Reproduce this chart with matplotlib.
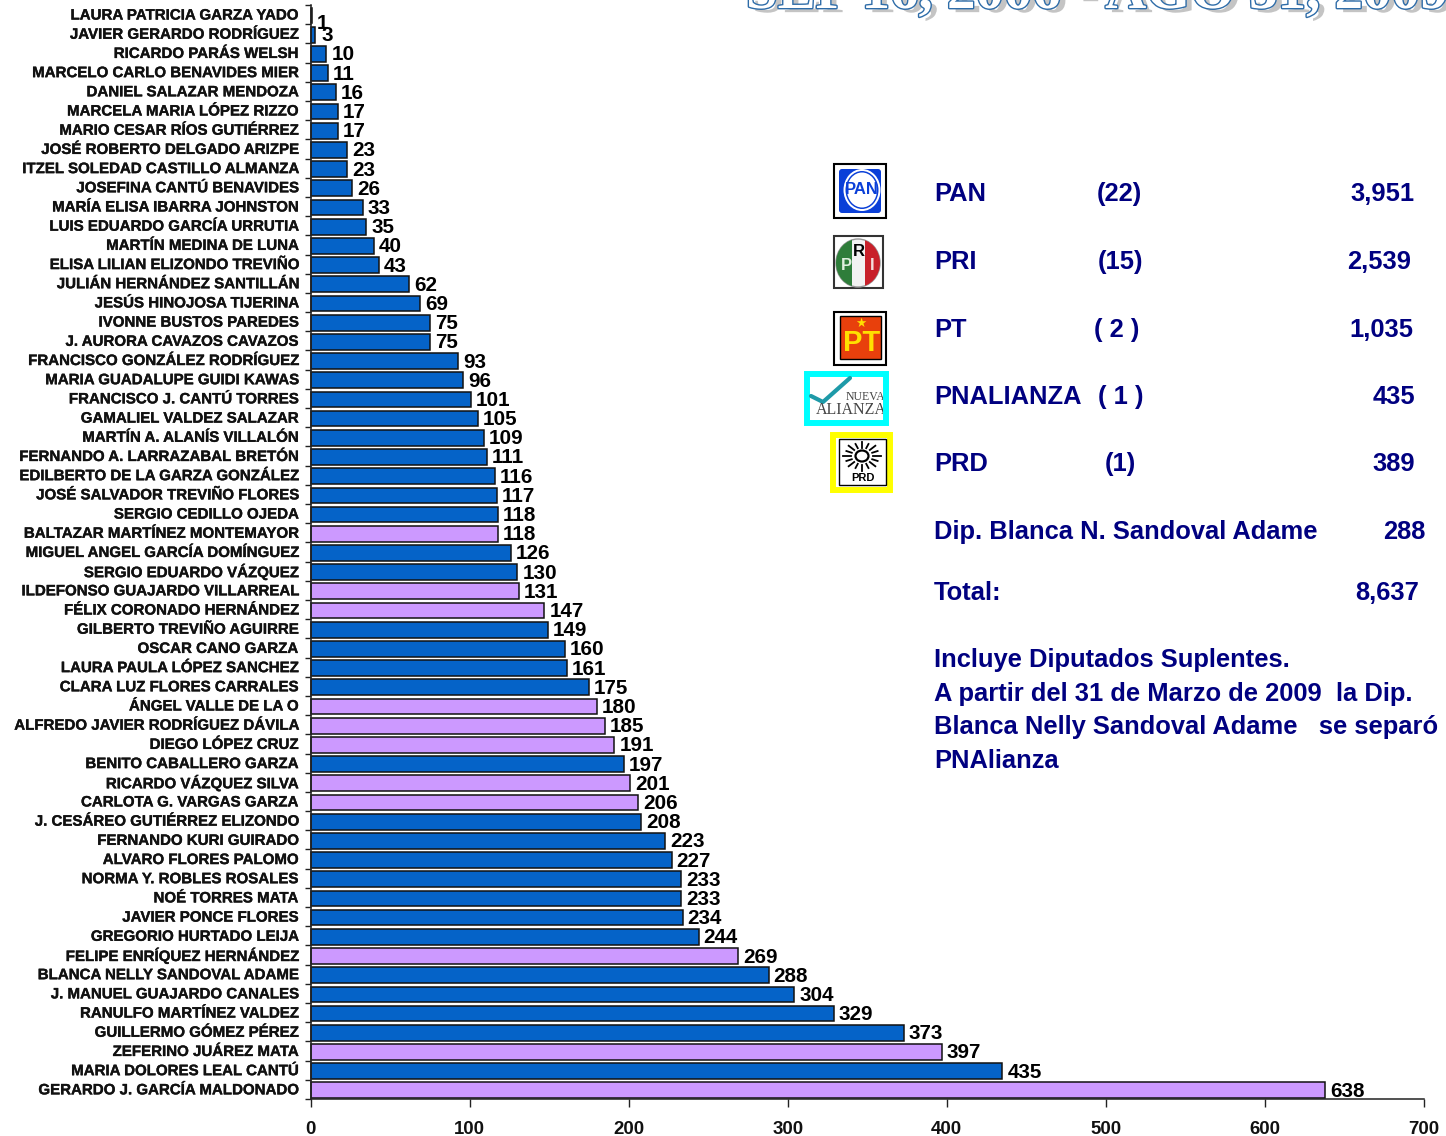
import math
import matplotlib
matplotlib.use("Agg")
import matplotlib.pyplot as plt
import matplotlib.patheffects as pe
from matplotlib.patches import Rectangle, Ellipse, FancyBboxPatch

W, H = 1446, 1136
BLUE = "#0563C8"
LILAC = "#CC99FF"
NAVY = "#000080"

names = ["LAURA PATRICIA GARZA YADO", "JAVIER GERARDO RODRÍGUEZ", "RICARDO PARÁS WELSH",
 "MARCELO CARLO BENAVIDES MIER", "DANIEL SALAZAR MENDOZA", "MARCELA MARIA LÓPEZ RIZZO",
 "MARIO CESAR RÍOS GUTIÉRREZ", "JOSÉ ROBERTO DELGADO ARIZPE", "ITZEL SOLEDAD CASTILLO ALMANZA",
 "JOSEFINA CANTÚ BENAVIDES", "MARÍA ELISA IBARRA JOHNSTON", "LUIS EDUARDO GARCÍA URRUTIA",
 "MARTÍN MEDINA DE LUNA", "ELISA LILIAN ELIZONDO TREVIÑO", "JULIÁN HERNÁNDEZ SANTILLÁN",
 "JESÚS HINOJOSA TIJERINA", "IVONNE BUSTOS PAREDES", "J. AURORA CAVAZOS CAVAZOS",
 "FRANCISCO GONZÁLEZ RODRÍGUEZ", "MARIA GUADALUPE GUIDI KAWAS", "FRANCISCO J. CANTÚ TORRES",
 "GAMALIEL VALDEZ SALAZAR", "MARTÍN A. ALANÍS VILLALÓN", "FERNANDO A. LARRAZABAL BRETÓN",
 "EDILBERTO DE LA GARZA GONZÁLEZ", "JOSÉ SALVADOR TREVIÑO FLORES", "SERGIO CEDILLO OJEDA",
 "BALTAZAR MARTÍNEZ MONTEMAYOR", "MIGUEL ANGEL GARCÍA DOMÍNGUEZ", "SERGIO EDUARDO VÁZQUEZ",
 "ILDEFONSO GUAJARDO VILLARREAL", "FÉLIX CORONADO HERNÁNDEZ", "GILBERTO TREVIÑO AGUIRRE",
 "OSCAR CANO GARZA", "LAURA PAULA LÓPEZ SANCHEZ", "CLARA LUZ FLORES CARRALES",
 "ÁNGEL VALLE DE LA O", "ALFREDO JAVIER RODRÍGUEZ DÁVILA", "DIEGO LÓPEZ CRUZ",
 "BENITO CABALLERO GARZA", "RICARDO VÁZQUEZ SILVA", "CARLOTA G. VARGAS GARZA",
 "J. CESÁREO GUTIÉRREZ ELIZONDO", "FERNANDO KURI GUIRADO", "ALVARO FLORES PALOMO",
 "NORMA Y. ROBLES ROSALES", "NOÉ TORRES MATA", "JAVIER PONCE FLORES", "GREGORIO HURTADO LEIJA",
 "FELIPE ENRÍQUEZ HERNÁNDEZ", "BLANCA NELLY SANDOVAL ADAME", "J. MANUEL GUAJARDO CANALES",
 "RANULFO MARTÍNEZ VALDEZ", "GUILLERMO GÓMEZ PÉREZ", "ZEFERINO JUÁREZ MATA",
 "MARIA DOLORES LEAL CANTÚ", "GERARDO J. GARCÍA MALDONADO"]
values = [1, 3, 10, 11, 16, 17, 17, 23, 23, 26, 33, 35, 40, 43, 62, 69, 75, 75, 93, 96, 101, 105,
 109, 111, 116, 117, 118, 118, 126, 130, 131, 147, 149, 160, 161, 175, 180, 185, 191, 197, 201,
 206, 208, 223, 227, 233, 233, 234, 244, 269, 288, 304, 329, 373, 397, 435, 638]
lilac_names = ["BALTAZAR MARTÍNEZ MONTEMAYOR", "ILDEFONSO GUAJARDO VILLARREAL", "FÉLIX CORONADO HERNÁNDEZ",
 "ÁNGEL VALLE DE LA O", "ALFREDO JAVIER RODRÍGUEZ DÁVILA", "DIEGO LÓPEZ CRUZ",
 "RICARDO VÁZQUEZ SILVA", "CARLOTA G. VARGAS GARZA", "FELIPE ENRÍQUEZ HERNÁNDEZ",
 "ZEFERINO JUÁREZ MATA", "GERARDO J. GARCÍA MALDONADO"]
xticks = [0, 100, 200, 300, 400, 500, 600, 700]

parties = ["PAN", "PRI", "PT", "PNALIANZA", "PRD"]
seats = ["(22)", "(15)", "( 2 )", "( 1 )", "(1)"]
totals = ["3,951", "2,539", "1,035", "435", "389"]
extra_label, extra_value = "Dip. Blanca N. Sandoval Adame", "288"
total_label, total_value = "Total:", "8,637"
note_lines = ["Incluye Diputados Suplentes.", "A partir del 31 de Marzo de 2009  la Dip.",
              "Blanca Nelly Sandoval Adame   se separó del", "PNAlianza"]
title_text = "SEP 16, 2006 - AGO 31, 2009"

plt.rcParams["font.family"] = ["Liberation Sans", "DejaVu Sans"]
plt.rcParams["font.weight"] = "bold"
fig = plt.figure(figsize=(W / 100, H / 100), dpi=100, facecolor="white")

L, R, T, B = 310.5, 1424, 5, 1099
ax = fig.add_axes([L / W, 1 - B / H, (R - L) / W, (B - T) / H])
n = len(names)
ypos = list(range(n))
colors = [LILAC if nm in lilac_names else BLUE for nm in names]
ax.barh(ypos, values, height=0.82, color=colors, edgecolor="#111111", linewidth=1.1, clip_on=False)
ax.set_xlim(0, 700)
ax.set_ylim(n - 0.55, -0.55)
for s in ("top", "right"):
    ax.spines[s].set_visible(False)
for s in ("left", "bottom"):
    ax.spines[s].set_linewidth(1.1)
    ax.spines[s].set_color("#222222")
ax.set_yticks([i - 0.55 for i in range(n + 1)], [""] * (n + 1))
ax.tick_params(axis="y", length=4.5, width=1, color="#222222")
for i, nm in enumerate(names):
    ax.annotate(nm, (0, i), xytext=(-13, 0), textcoords="offset pixels", ha="right", va="center",
                fontsize=10.85, fontweight="bold", color="#111111",
                path_effects=[pe.withStroke(linewidth=0.25, foreground="#111111")])
ax.set_xticks(xticks)
ax.tick_params(axis="x", length=5.5, width=1, color="#222222", pad=10.5, labelsize=13.4, labelcolor="#111111")
for v, i in zip(values, ypos):
    dy = -8 if i == 0 else -1
    dx = 6 if i == 1 else 5
    ax.annotate(str(v), (v, i), xytext=(dx, dy), textcoords="offset pixels", ha="left", va="center",
                fontsize=14.9, fontweight="bold", color="black")

ov = fig.add_axes([0, 0, 1, 1], facecolor="none")
ov.set_xlim(0, W)
ov.set_ylim(H, 0)
ov.axis("off")

ov.text(746, 8, title_text, ha="left", va="baseline", fontsize=41, color="white", clip_on=True,
        family="Liberation Serif",
        path_effects=[pe.withSimplePatchShadow(offset=(4.5, -3), shadow_rgbFace="#C4C4C4", alpha=1),
                      pe.withStroke(linewidth=2.0, foreground="#2E6CA8")])

def frame(x0, y0, x1, y1, fc="white", ec="black", lw=1.5):
    ov.add_patch(Rectangle((x0, y0), x1 - x0, y1 - y0, facecolor=fc, edgecolor=ec, linewidth=lw))

# PAN
frame(834, 164, 886, 218)
ov.add_patch(FancyBboxPatch((839, 169), 42, 44, boxstyle="round,pad=0,rounding_size=3", fc="#0A3FD8", ec="none"))
ov.add_patch(Ellipse((862, 190), 37, 42, fc="white", ec="none"))
ov.add_patch(Ellipse((862, 190), 33, 38, fc="#0A3FD8", ec="none"))
ov.add_patch(Ellipse((862, 190), 30, 35, fc="white", ec="none"))
ov.text(862, 190, "PAN", color="#0A3FD8", fontsize=12, ha="center", va="center", fontweight="bold")
# PRI
frame(834, 236, 883, 288, ec="#333333")
clip = Ellipse((858, 263), 44, 48, transform=ov.transData)
ov.add_patch(Ellipse((858, 263), 44, 48, fc="#F2F2F2", ec="#999999", lw=1))
ov.add_patch(Rectangle((836, 239), 16, 48, fc="#2E7D3A", ec="none")).set_clip_path(clip)
ov.add_patch(Rectangle((865, 239), 16, 48, fc="#C8202A", ec="none")).set_clip_path(clip)
ov.text(846, 265, "P", color="#DDEEDD", fontsize=12, ha="center", va="center")
ov.text(859, 252, "R", color="black", fontsize=12, ha="center", va="center")
ov.text(872, 265, "I", color="#F4DDDD", fontsize=12, ha="center", va="center")
# PT
frame(834, 312, 886, 365)
ov.add_patch(Rectangle((840, 316), 41, 43, fc="#E8400C", ec="black", lw=1))
ov.text(861, 323, "★", color="#FFE000", fontsize=9, ha="center", va="center", family="DejaVu Sans")
ov.text(862, 343, "PT", color="#FFE000", fontsize=21, ha="center", va="center")
# Nueva Alianza
ov.add_patch(Rectangle((807, 374), 79, 49, fc="white", ec="#00FFFF", lw=4.3))
ov.plot([811, 823, 850], [396, 402, 378], color="#1E9AA8", lw=3, solid_capstyle="round")
box = Rectangle((810, 378), 73, 42, transform=ov.transData)
t1 = ov.text(846, 397, "NUEVA", color="#444444", fontsize=8.5, family="Liberation Serif", ha="left", va="center",
             fontweight="normal")
t1.set_clip_path(box)
t1.set_clip_on(True)
t2 = ov.text(816, 410, "ALIANZA", color="#444444", fontsize=11.5, family="Liberation Serif", ha="left", va="center",
             fontweight="normal")
t2.set_clip_path(box)
t2.set_clip_on(True)
# PRD
ov.add_patch(Rectangle((833, 435), 57, 55, fc="white", ec="#FFFF00", lw=4.3))
frame(839, 439, 886, 485, lw=1)
sx, sy = 862, 456
ov.add_patch(Ellipse((sx, sy), 13, 11, fc="white", ec="black", lw=1.6))
for k in range(16):
    a = 2 * math.pi * k / 16
    r0, r1 = 8.5, 13 if k % 2 else 14.5
    ov.plot([sx + 1.3 * r0 * math.cos(a), sx + 1.3 * r1 * math.cos(a)], [sy + r0 * math.sin(a), sy + r1 * math.sin(a)],
            color="black", lw=1.3)
ov.text(863, 478, "PRD", color="black", fontsize=8, ha="center", va="center")

FS = 18.4
rows_y = [194, 262, 330, 397, 464]
seat_cx = [1119, 1120.5, 1117, 1121, 1120]
tot_r = [1415, 1411, 1413, 1415, 1415]
for p, s, t, y, cx, r in zip(parties, seats, totals, rows_y, seat_cx, tot_r):
    ov.text(934, y, p, color=NAVY, fontsize=FS, ha="left", va="center")
    ov.text(cx, y, s, color=NAVY, fontsize=FS, ha="center", va="center")
    ov.text(r, y, t, color=NAVY, fontsize=FS, ha="right", va="center")
ov.text(934, 532, extra_label, color=NAVY, fontsize=FS, ha="left", va="center")
ov.text(1425, 532, extra_value, color=NAVY, fontsize=FS, ha="right", va="center")
ov.text(934, 593, total_label, color=NAVY, fontsize=FS, ha="left", va="center")
ov.text(1419, 593, total_value, color=NAVY, fontsize=FS, ha="right", va="center")
for ln, y in zip(note_lines, [660, 694, 727, 761]):
    ov.text(934, y, ln, color=NAVY, fontsize=FS, ha="left", va="center")

fig.savefig("out.png", dpi=100, facecolor="white")
